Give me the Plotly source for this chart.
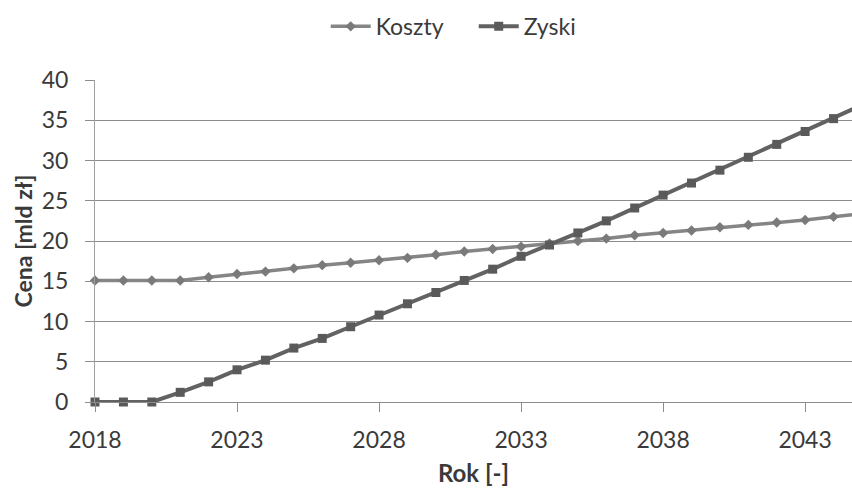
import plotly.graph_objects as go

# Lata i wartości [mld zł]
years = list(range(2018, 2046))
koszty = [15.1, 15.1, 15.1, 15.1, 15.5, 15.9, 16.2, 16.6, 17.0, 17.3,
          17.6, 17.9, 18.3, 18.7, 19.0, 19.3, 19.7, 20.0, 20.3, 20.7,
          21.0, 21.3, 21.7, 22.0, 22.3, 22.6, 23.0, 23.4]
zyski = [0.0, 0.0, 0.0, 1.2, 2.5, 4.0, 5.2, 6.7, 7.9, 9.35,
         10.8, 12.2, 13.6, 15.1, 16.5, 18.1, 19.5, 21.0, 22.5, 24.1,
         25.7, 27.2, 28.8, 30.4, 32.0, 33.6, 35.2, 36.9]
x_ticks = [2018, 2023, 2028, 2033, 2038, 2043]
y_ticks = [0, 5, 10, 15, 20, 25, 30, 35, 40]

FONT = "Lato, 'Open Sans', sans-serif"
TEXT = "#3a3a3a"

fig = go.Figure()
fig.add_trace(go.Scatter(
    x=years, y=koszty, name="Koszty", mode="lines+markers",
    line=dict(color="#858585", width=3.5),
    marker=dict(symbol="diamond", size=8, color="#7a7a7a"),
    cliponaxis=False,
))
fig.add_trace(go.Scatter(
    x=years, y=zyski, name="Zyski", mode="lines+markers",
    line=dict(color="#626262", width=4),
    marker=dict(symbol="square", size=9, color="#5a5a5a"),
    cliponaxis=False,
))

fig.update_layout(
    width=852, height=488,
    margin=dict(l=95, r=0, t=80, b=86),
    paper_bgcolor="white", plot_bgcolor="white",
    font=dict(family=FONT, color=TEXT, size=23),
    showlegend=True,
    legend=dict(orientation="h", x=0.556, xanchor="center", y=0.99,
                yanchor="top", xref="container", yref="container",
                font=dict(size=23), itemwidth=40, entrywidth=93),
    xaxis=dict(
        range=[2018, 2044.65], tickvals=x_ticks,
        showgrid=False, zeroline=False,
        showline=True, linecolor="#8c8c8c", linewidth=1,
        ticks="outside", ticklen=9, tickcolor="#8c8c8c",
        tickfont=dict(size=23, color=TEXT), ticklabelstandoff=8,
        title=dict(text="<b>Rok [-]</b>", font=dict(size=24, color=TEXT),
                   standoff=13),
    ),
    yaxis=dict(
        range=[0, 40], tickvals=y_ticks,
        showgrid=True, gridcolor="#8c8c8c", gridwidth=1,
        zeroline=False,
        showline=True, linecolor="#a0a0a0", linewidth=1,
        ticks="outside", ticklen=9, tickcolor="#8c8c8c",
        tickfont=dict(size=23, color=TEXT), ticklabelstandoff=12,
        title=dict(text="<b>Cena [mld zł]</b>", font=dict(size=23, color=TEXT),
                   standoff=2),
    ),
)

fig.write_html("out.html")
